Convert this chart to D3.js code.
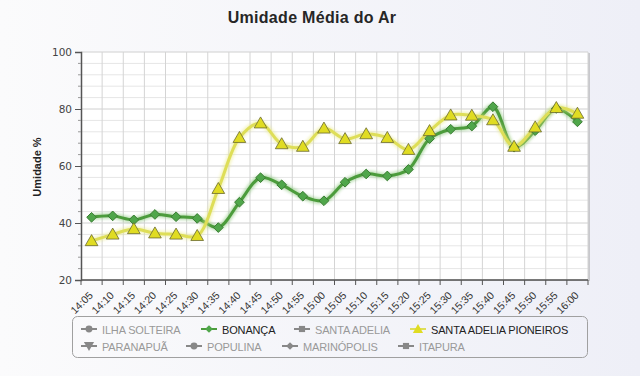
<!DOCTYPE html>
<html><head><meta charset="utf-8">
<script src="https://cdn.jsdelivr.net/npm/d3@7"></script>
<style>html,body{margin:0;padding:0;background:#fff;}svg{display:block;font-family:"Liberation Sans",Arial,sans-serif;}</style>
</head><body>
<svg id="c" width="640" height="376"></svg>
<script>
const categories = ["14:05","14:10","14:15","14:20","14:25","14:30","14:35","14:40","14:45","14:50","14:55","15:00","15:05","15:10","15:15","15:20","15:25","15:30","15:35","15:40","15:45","15:50","15:55","16:00"];
const bonanca = [42.0,42.5,41.1,43.0,42.2,41.6,38.4,47.3,55.9,53.4,49.4,47.8,54.3,57.2,56.5,58.8,69.6,72.9,74.0,80.8,66.6,72.4,80.2,75.5];
const pioneiros = [33.7,36.0,37.9,36.4,36.0,35.5,52.0,69.9,75.0,67.7,66.8,73.2,69.5,71.2,69.9,65.7,72.3,77.8,77.7,76.1,66.8,73.6,80.4,78.4];
const yTicks = [20,40,60,80,100];
const legendNames = ["ILHA SOLTEIRA","BONANÇA","SANTA ADELIA","SANTA ADELIA PIONEIROS","PARANAPUÃ","POPULINA","MARINÓPOLIS","ITAPURA"];
const legendSymbols = ["circle","diamond","square","triangle","triangle-down","circle","diamond","square"];
const legendVisible = [false,true,false,true,false,false,false,false];
const title = "Umidade Média do Ar";
const yTitle = "Umidade %";

const svg = d3.select("#c");
const W=640,H=376;
const defs = svg.append("defs");
const bg = defs.append("linearGradient").attr("id","bg").attr("x1","0").attr("x2","1").attr("y1","0").attr("y2","0");
bg.append("stop").attr("offset","0").attr("stop-color","#fbfbfc");
bg.append("stop").attr("offset","1").attr("stop-color","#eeeff7");
svg.append("rect").attr("width",W).attr("height",H).attr("fill","url(#bg)");
const f = defs.append("filter").attr("id","glow").attr("x","-5%").attr("y","-20%").attr("width","110%").attr("height","140%");
f.append("feGaussianBlur").attr("stdDeviation",1.6);

const L=81,R=588,T=52,B=280;
const x = d3.scaleBand().domain(categories).range([L,R]);
const y = d3.scaleLinear().domain([20,100]).range([B,T]);

// plot area
svg.append("rect").attr("x",L+2).attr("y",T+1).attr("width",R-L).attr("height",B-T).attr("fill","#c8c8cc");
svg.append("rect").attr("x",L).attr("y",T).attr("width",R-L).attr("height",B-T).attr("fill","#fff");

// minor horizontal grid
const minor = d3.range(20,100.01,4).filter(v=>v%20!==0);
svg.append("g").selectAll("line").data(minor).join("line")
  .attr("x1",L).attr("x2",R).attr("y1",d=>y(d)).attr("y2",d=>y(d))
  .attr("stroke","#e6e6e6").attr("stroke-width",1);
// major horizontal grid
svg.append("g").selectAll("line").data(yTicks).join("line")
  .attr("x1",L).attr("x2",R).attr("y1",d=>y(d)).attr("y2",d=>y(d))
  .attr("stroke","#d0d0d0").attr("stroke-width",1);
// vertical grid at category boundaries
const bounds = categories.map(c=>x(c)).concat([R]);
svg.append("g").selectAll("line").data(bounds.slice(1)).join("line")
  .attr("x1",d=>d).attr("x2",d=>d).attr("y1",T).attr("y2",B)
  .attr("stroke","#d4d4d4").attr("stroke-width",1);

// y axis
const yAxis = d3.axisLeft(y).tickValues(yTicks).tickSize(6).tickPadding(3);
const gy = svg.append("g").attr("transform",`translate(${L},0)`).call(yAxis);
gy.select(".domain").attr("stroke","#555").attr("stroke-width",1.5);
gy.selectAll(".tick line").attr("stroke","#555");
gy.selectAll("text").attr("fill","#444").attr("font-family","'DejaVu Sans',sans-serif").attr("font-size",10.5);
gy.append("g").selectAll("line").data(minor).join("line")
  .attr("x1",-3).attr("x2",0).attr("y1",d=>y(d)).attr("y2",d=>y(d)).attr("stroke","#999");

// x axis
const gx = svg.append("g").attr("transform",`translate(0,${B})`);
gx.append("line").attr("x1",L).attr("x2",R).attr("stroke","#555").attr("stroke-width",1.5);
gx.selectAll("line.tk").data(bounds).join("line").attr("class","tk")
  .attr("x1",d=>d).attr("x2",d=>d).attr("y1",0).attr("y2",5).attr("stroke","#555");
gx.selectAll("text").data(categories).join("text")
  .attr("transform",d=>`translate(${x(d)+x.bandwidth()/2+2},${16}) rotate(-45)`)
  .attr("text-anchor","end").attr("font-size",10.5).attr("fill","#333")
  .text(d=>d);

// title
svg.append("text").attr("x",312).attr("y",23).attr("text-anchor","middle")
  .attr("font-size",16).attr("font-weight","bold").attr("fill","#262626")
  .attr("letter-spacing",0.3).text(title);
svg.append("text").attr("transform","translate(41,167) rotate(-90)").attr("text-anchor","middle")
  .attr("font-size",11).attr("font-weight","bold").attr("fill","#222").text(yTitle);

// series
const cx = d=>x(d)+x.bandwidth()/2;
const line = d3.line().curve(d3.curveCatmullRom.alpha(0.5)).x((d,i)=>cx(categories[i])).y(d=>y(d));
function series(vals,color,glowColor){
  svg.append("path").attr("d",line(vals)).attr("fill","none").attr("stroke",glowColor).attr("stroke-width",6).attr("opacity",0.5).attr("filter","url(#glow)");
  svg.append("path").attr("d",line(vals)).attr("fill","none").attr("stroke",color).attr("stroke-width",3).attr("stroke-linejoin","round");
}
series(bonanca,"#4c9c3c","#7abf6a");
series(pioneiros,"#dede58","#e8e880");

const sym = {circle:d3.symbolCircle,diamond:d3.symbolDiamond2,square:d3.symbolSquare,triangle:d3.symbolTriangle,"triangle-down":d3.symbolTriangle};
svg.append("g").selectAll("path").data(bonanca).join("path")
  .attr("transform",(d,i)=>`translate(${cx(categories[i])},${y(d)})`)
  .attr("d",d3.symbol(d3.symbolDiamond2,60)).attr("fill","#4fa64a").attr("stroke","#3a7d33").attr("stroke-width",1);
svg.append("g").selectAll("path").data(pioneiros).join("path")
  .attr("transform",(d,i)=>`translate(${cx(categories[i])},${y(d)+1})`)
  .attr("d",d3.symbol(d3.symbolTriangle,70)).attr("fill","#e0dc22").attr("stroke","#6a6a30").attr("stroke-width",0.8);

// legend
svg.append("rect").attr("x",72.5).attr("y",316.5).attr("width",515).attr("height",41).attr("rx",5)
  .attr("fill","none").attr("stroke","#a0a0a0");
const legX = [81,201,294,410,81,186,282,398];
const legY = [329,329,329,329,346,346,346,346];
const lg = svg.append("g").selectAll("g").data(legendNames).join("g")
  .attr("transform",(d,i)=>`translate(${legX[i]},${legY[i]})`);
lg.append("line").attr("x1",0).attr("x2",16).attr("stroke",(d,i)=>i===1?"#4c9c3c":i===3?"#dede58":"#888").attr("stroke-width",2);
lg.append("path").attr("transform",(d,i)=>`translate(8,${legendSymbols[i]==="triangle"?1:legendSymbols[i]==="triangle-down"?-1:0}) rotate(${legendSymbols[i]==="triangle-down"?180:0})`)
  .attr("d",(d,i)=>d3.symbol(sym[legendSymbols[i]],legendSymbols[i].startsWith("tri")?45:38)())
  .attr("fill",(d,i)=>i===1?"#4fa64a":i===3?"#e0dc22":"#888");
lg.append("text").attr("x",21).attr("y",4.5).attr("font-size",11).attr("letter-spacing",-0.15)
  .attr("fill",(d,i)=>legendVisible[i]?"#222":"#999").text(d=>d);
</script>
</body></html>
